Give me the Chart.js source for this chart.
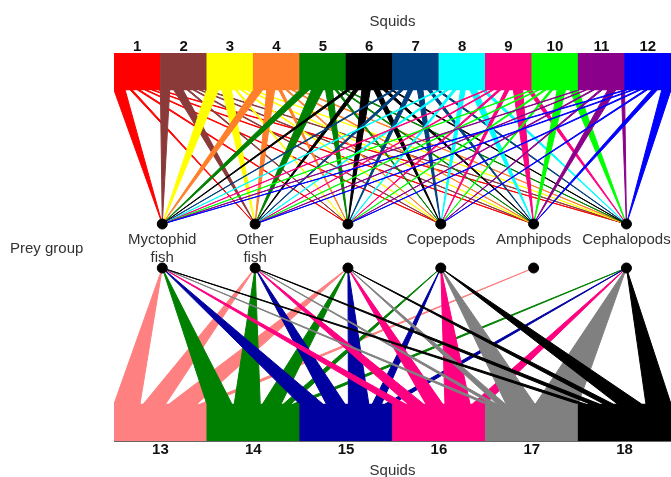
<!DOCTYPE html>
<html>
<head>
<meta charset="utf-8">
<script src="https://cdn.jsdelivr.net/npm/chart.js@4.4.1/dist/chart.umd.min.js"></script>
<style>
  html, body { margin: 0; padding: 0; background: #fff; overflow: hidden; }
  #wrap { width: 671px; height: 477px; overflow: hidden; }
  canvas { display: block; }
</style>
</head>
<body>
<div id="wrap"><canvas id="web"></canvas></div>
<script>
const preyGroups = ['Myctophid\nfish', 'Other\nfish', 'Euphausids', 'Copepods', 'Amphipods', 'Cephalopods'];
const topSquids = ['1', '2', '3', '4', '5', '6', '7', '8', '9', '10', '11', '12'];
const bottomSquids = ['13', '14', '15', '16', '17', '18'];

// link strength squid -> prey group, as share of the squid box width (squids 1-12)
const topMyctophid   = [0.24, 0.20, 0.25, 0.20, 0.20, 0.08, 0.05, 0.04, 0.04, 0.03, 0.03, 0.05];
const topOtherFish   = [0.05, 0.20, 0.20, 0.17, 0.25, 0.10, 0.08, 0.06, 0.04, 0.04, 0.03, 0.05];
const topEuphausids  = [0.05, 0.04, 0.04, 0.06, 0.15, 0.18, 0.10, 0.06, 0.06, 0.05, 0.04, 0.05];
const topCopepods    = [0.04, 0.04, 0.04, 0.04, 0.05, 0.12, 0.12, 0.10, 0.08, 0.05, 0.05, 0.05];
const topAmphipods   = [0.04, 0.04, 0.04, 0.04, 0.04, 0.08, 0.08, 0.15, 0.20, 0.18, 0.17, 0.12];
const topCephalopods = [0.04, 0.04, 0.03, 0.04, 0.04, 0.04, 0.06, 0.08, 0.10, 0.18, 0.07, 0.20];

// squids 13-18
const botMyctophid   = [0.28, 0.27, 0.25, 0.14, 0.055, 0.08];
const botOtherFish   = [0.24, 0.28, 0.20, 0.17, 0.055, 0.10];
const botEuphausids  = [0.30, 0.20, 0.22, 0.18, 0.09, 0.10];
const botCopepods    = [0.00, 0.08, 0.10, 0.27, 0.31, 0.26];
const botAmphipods   = [0.07, 0.00, 0.00, 0.00, 0.00, 0.00];
const botCephalopods = [0.00, 0.07, 0.08, 0.14, 0.46, 0.27];

const topColors = ['#ff0000', '#8b3a3a', '#ffff00', '#ff7f2a', '#008000', '#000000',
                   '#00407f', '#00ffff', '#ff0080', '#00ff00', '#8b008b', '#0000ff'];
const bottomColors = ['#ff8080', '#008000', '#0000a0', '#ff0080', '#808080', '#000000'];

// vertical layout, in y-axis units
const TOP_BOX = [351, 388];
const TOP_NODE = 217;
const BOT_NODE = 173;
const BOT_BOX = [0, 37];
const nodeX = k => 1.54 + 2 * k;

const topDiet = topSquids.map((_, i) => [topMyctophid[i], topOtherFish[i], topEuphausids[i],
  topCopepods[i], topAmphipods[i], topCephalopods[i]]);
const botDiet = bottomSquids.map((_, i) => [botMyctophid[i], botOtherFish[i], botEuphausids[i],
  botCopepods[i], botAmphipods[i], botCephalopods[i]]);

function wedge(x0, x1, yBase, xApex, yApex, color, order) {
  return {
    type: 'line',
    xAxisID: 'xTop',
    data: [{x: x0, y: yBase}, {x: xApex, y: yApex}, {x: x1, y: yBase}],
    borderColor: color,
    backgroundColor: color,
    borderWidth: 1,
    borderJoinStyle: 'round',
    pointRadius: 0,
    tension: 0,
    fill: 'shape',
    order: order
  };
}

// wedge bases run left to right in prey order, spare width shared out as equal gaps
function addWedges(diet, boxWidth, boxCenter, yBase, yApex, colors, out) {
  diet.forEach((row, i) => {
    const links = row.map((v, k) => ({k, w: v * boxWidth})).filter(l => l.w > 0);
    const used = links.reduce((a, l) => a + l.w, 0);
    const gap = links.length > 1 ? (boxWidth - used) / (links.length - 1) : 0;
    let x = boxCenter(i) - boxWidth / 2;
    links.forEach(l => {
      out.push(wedge(x, x + l.w, yBase, nodeX(l.k), yApex, colors[i], 100 - i));
      x += l.w + gap;
    });
  });
}

const datasets = [];
addWedges(topDiet, 1, i => i + 1, TOP_BOX[0], TOP_NODE, topColors, datasets);
addWedges(botDiet, 2, j => 1.5 + 2 * j, BOT_BOX[1], BOT_NODE, bottomColors, datasets);

// squid boxes
datasets.push({
  type: 'bar',
  xAxisID: 'xTop',
  data: topSquids.map((_, i) => ({x: i + 1, y: TOP_BOX.slice()})),
  backgroundColor: topColors,
  borderWidth: 0,
  grouped: false,
  barPercentage: 1,
  categoryPercentage: 1,
  order: 5
});
datasets.push({
  type: 'bar',
  xAxisID: 'xBot',
  data: bottomSquids.map((_, j) => ({x: 1.5 + 2 * j, y: BOT_BOX.slice()})),
  backgroundColor: bottomColors,
  borderWidth: 0,
  grouped: false,
  barPercentage: 1,
  categoryPercentage: 1,
  order: 5
});

// prey group nodes
datasets.push({
  type: 'scatter',
  xAxisID: 'xTop',
  data: preyGroups.flatMap((_, k) => [{x: nodeX(k), y: TOP_NODE}, {x: nodeX(k), y: BOT_NODE}]),
  pointRadius: 5,
  pointBackgroundColor: '#000',
  pointBorderColor: '#000',
  order: -1
});

const FONT = '"Liberation Sans", Arial, sans-serif';

const preyLabels = {
  id: 'preyLabels',
  afterDatasetsDraw(chart) {
    const {ctx, scales} = chart;
    const yTop = scales.y.getPixelForValue(TOP_NODE);
    const yMid = scales.y.getPixelForValue((TOP_NODE + BOT_NODE) / 2);
    ctx.save();
    ctx.font = '15px ' + FONT;
    ctx.fillStyle = '#333';
    ctx.textAlign = 'center';
    ctx.textBaseline = 'middle';
    preyGroups.forEach((name, k) => {
      const x = scales.xTop.getPixelForValue(nodeX(k));
      name.split('\n').forEach((line, n) => ctx.fillText(line, x, yTop + 16 + n * 18));
    });
    ctx.textAlign = 'left';
    ctx.fillText('Prey group', 10, yMid + 3);
    ctx.restore();
  }
};

new Chart(document.getElementById('web'), {
  type: 'line',
  data: {datasets: datasets},
  options: {
    responsive: true,
    maintainAspectRatio: false,
    animation: false,
    layout: {autoPadding: false, padding: {top: 13, left: 114, right: 0, bottom: 0}},
    plugins: {legend: {display: false}, tooltip: {enabled: false}},
    scales: {
      xTop: {
        type: 'linear', position: 'top', min: 0.5, max: 12.5, offset: false, z: 1,
        grid: {display: false, drawTicks: false},
        border: {display: true, color: '#888'},
        afterBuildTicks: s => { s.ticks = topSquids.map((_, i) => ({value: i + 1})); },
        ticks: {
          callback: (v, i) => topSquids[i],
          autoSkip: false, maxRotation: 0, padding: -3, color: '#111',
          font: {family: FONT, size: 15, weight: 'bold'}
        },
        title: {display: true, text: 'Squids', color: '#333', padding: {top: 0, bottom: 10},
                font: {family: FONT, size: 15}}
      },
      xBot: {
        type: 'linear', position: 'bottom', min: 0.5, max: 12.5, offset: false, z: 1,
        grid: {display: false, drawTicks: false},
        border: {display: true, color: '#666'},
        afterBuildTicks: s => { s.ticks = bottomSquids.map((_, j) => ({value: 1.5 + 2 * j})); },
        ticks: {
          callback: (v, i) => bottomSquids[i],
          autoSkip: false, maxRotation: 0, padding: 0, color: '#111',
          font: {family: FONT, size: 15, weight: 'bold'}
        },
        title: {display: true, text: 'Squids', color: '#333', padding: {top: 6, bottom: 0},
                font: {family: FONT, size: 15, lineHeight: 0.8}}
      },
      y: {type: 'linear', display: false, min: 0, max: 388}
    }
  },
  plugins: [preyLabels]
});
</script>
</body>
</html>
